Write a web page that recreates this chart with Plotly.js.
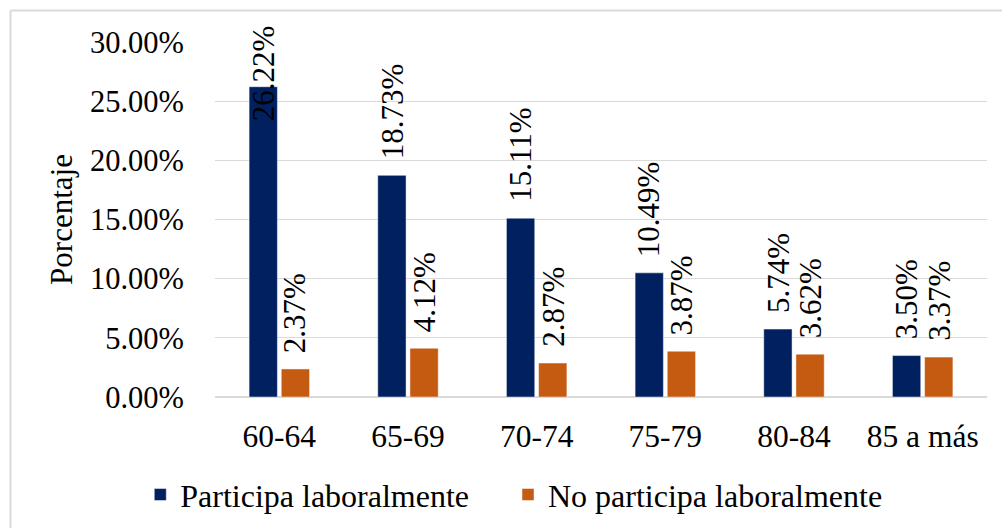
<!DOCTYPE html>
<html>
<head>
<meta charset="utf-8">
<script src="https://cdn.plot.ly/plotly-3.0.1.min.js"></script>
<style>html,body{margin:0;padding:0;background:#fff;}</style>
</head>
<body>
<div id="chart" style="width:1002px;height:528px;"></div>
<script>
const categories = ["60-64", "65-69", "70-74", "75-79", "80-84", "85 a más"];
const participa = [26.22, 18.73, 15.11, 10.49, 5.74, 3.50];
const noParticipa = [2.37, 4.12, 2.87, 3.87, 3.62, 3.37];
const seriesNames = ["Participa laboralmente", "No participa laboralmente"];
const yTicks = [0, 5, 10, 15, 20, 25, 30];

const FONT = "Liberation Serif, Times New Roman, serif";
const BLUE = "#002060";
const ORANGE = "#C55A11";

const traces = [
  {type: "bar", name: seriesNames[0], x: categories, y: participa, legend: "legend",
   marker: {color: BLUE, line: {color: "rgba(255,255,255,0.6)", width: 0.8}}, hoverinfo: "none"},
  {type: "bar", name: seriesNames[1], x: categories, y: noParticipa, legend: "legend2",
   marker: {color: ORANGE, line: {color: "rgba(255,255,255,0.6)", width: 0.8}}, hoverinfo: "none"}
];

const annotations = [];
const plotH = 355, yMax = 30;
function addLabels(vals, shift) {
  vals.forEach((v, i) => {
    const txt = v.toFixed(2) + "%";
    const topPx = (v / yMax) * plotH + 15 + 95;
    if (topPx > plotH + 22) {
      annotations.push({x: categories[i], xref: "x", y: 1.0535, yref: "paper",
        yanchor: "top", xanchor: "center", xshift: shift, text: txt, textangle: -90,
        showarrow: false, font: {family: FONT, size: 31, color: "#000"}});
    } else {
      annotations.push({x: categories[i], xref: "x", y: v, yref: "y",
        yanchor: "bottom", xanchor: "center", xshift: shift, yshift: 14, text: txt, textangle: -90,
        showarrow: false, font: {family: FONT, size: 31, color: "#000"}});
    }
  });
}
addLabels(participa, -16);
addLabels(noParticipa, 16);

const legendBase = {orientation: "h", xref: "container", yref: "container", y: 0.063,
  xanchor: "left", yanchor: "middle", font: {family: FONT, size: 32, color: "#000"},
  itemwidth: 30, bgcolor: "rgba(0,0,0,0)", borderwidth: 0};

const layout = {
  width: 1002, height: 528,
  margin: {l: 215, r: 15, t: 42, b: 131},
  paper_bgcolor: "#fff", plot_bgcolor: "#fff",
  font: {family: FONT, size: 30, color: "#000"},
  barmode: "group", bargap: 0.5, bargroupgap: 0.12,
  showlegend: true,
  legend: Object.assign({}, legendBase, {x: 0.140}),
  legend2: Object.assign({}, legendBase, {x: 0.507}),
  xaxis: {type: "category", showgrid: false, showline: false, zeroline: false,
    ticks: "", ticklabelstandoff: 17, tickfont: {family: FONT, size: 31.5, color: "#000"}},
  yaxis: {range: [0, 30], tickvals: yTicks, ticktext: yTicks.map(t => t.toFixed(2) + "%"),
    showgrid: true, gridcolor: "#d9d9d9", gridwidth: 1.3, zeroline: true, zerolinecolor: "#d9d9d9", zerolinewidth: 1.3,
    showline: false, ticks: "", ticklabelstandoff: 30,
    tickfont: {family: FONT, size: 30.5, color: "#000"},
    title: {text: "Porcentaje", font: {family: FONT, size: 31, color: "#000"}, standoff: 8}},
  annotations: annotations,
  shapes: [
    {type: "line", xref: "paper", yref: "paper", x0: -0.2649, x1: 1.05, y0: 1.0887, y1: 1.0887,
     line: {color: "#d9d9d9", width: 2}},
    {type: "line", xref: "paper", yref: "paper", x0: -0.2649, x1: -0.2649, y0: -0.4, y1: 1.0887,
     line: {color: "#d9d9d9", width: 2}}
  ]
};

Plotly.newPlot("chart", traces, layout, {displayModeBar: false, staticPlot: true});
</script>
</body>
</html>
